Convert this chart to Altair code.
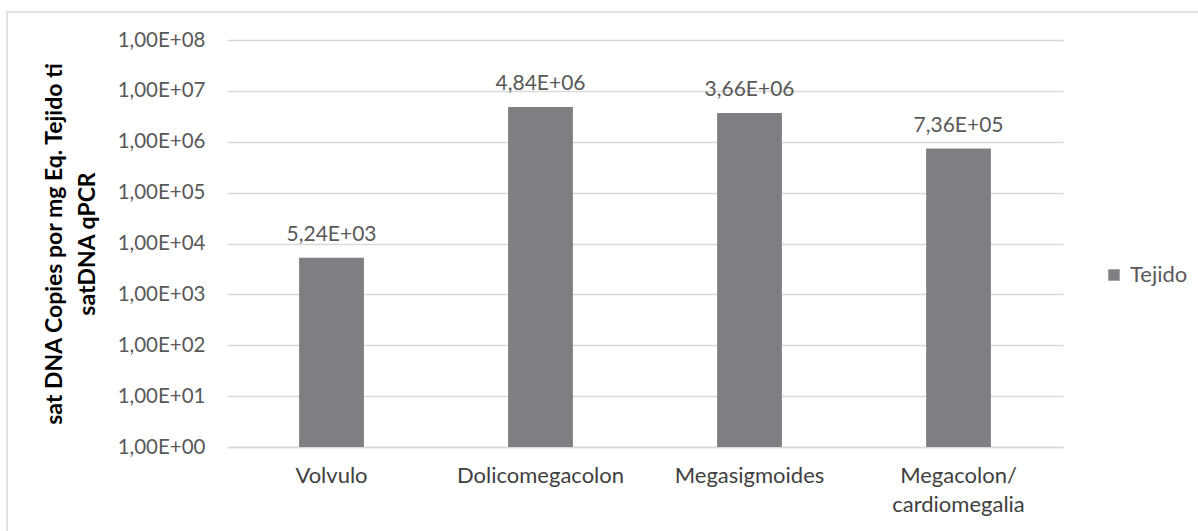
import altair as alt
import pandas as pd

categories = ["Volvulo", "Dolicomegacolon", "Megasigmoides", "Megacolon/ cardiomegalia"]
values = [5240, 4840000, 3660000, 736000]
value_labels = ["5,24E+03", "4,84E+06", "3,66E+06", "7,36E+05"]
series = ["Tejido"] * 4
y_ticks = [1, 10, 100, 1000, 10000, 100000, 1000000, 10000000, 100000000]

df = pd.DataFrame({"cat": categories, "val": values, "lab": value_labels, "serie": series})

FONT = "Lato"
BAR = "#7e7f83"

base = alt.Chart(df)

x_enc = alt.X(
    "cat:N",
    sort=categories,
    scale=alt.Scale(paddingInner=0.69, paddingOuter=0.345),
    axis=alt.Axis(
        title=None,
        labelAngle=0,
        labelFont=FONT,
        labelFontSize=22,
        labelColor="#404040",
        labelPadding=18,
        labelLineHeight=29,
        labelExpr="datum.label == 'Megacolon/ cardiomegalia' ? ['Megacolon/', 'cardiomegalia'] : datum.label",
        ticks=False,
        domainColor="#d9d9d9",
        domainWidth=1.5,
        grid=False,
    ),
)

y_enc = alt.Y(
    "val:Q",
    stack=None,
    scale=alt.Scale(type="log", domain=[1, 100000000]),
    axis=alt.Axis(
        values=y_ticks,
        title=["sat DNA Copies por mg Eq.  Tejido ti", "satDNA qPCR"],
        titleFont=FONT,
        titleFontSize=23,
        titleFontWeight="bold",
        titleColor="#000000",
        titlePadding=18,
        titleLineHeight=33,
        labelFont=FONT,
        labelFontSize=20.5,
        labelColor="#595959",
        labelPadding=22,
        labelExpr="'1,00E+0' + format(log(datum.value)/LN10, '.0f')",
        ticks=False,
        domain=False,
        gridColor="#d9d9d9",
        gridWidth=1.3,
    ),
)

bars = base.mark_bar(color=BAR).encode(
    x=x_enc,
    y=y_enc,
    color=alt.Color(
        "serie:N",
        scale=alt.Scale(range=[BAR]),
        legend=alt.Legend(
            title=None,
            orient="none",
            legendX=876,
            legendY=224,
            symbolType="square",
            symbolSize=130,
            symbolStrokeWidth=0,
            labelFont=FONT,
            labelFontSize=22,
            labelColor="#595959",
            labelOffset=5,
        ),
    ),
)

texts = base.mark_text(
    font=FONT, fontSize=21, color="#595959", baseline="alphabetic", dy=-17
).encode(
    x=alt.X("cat:N", sort=categories),
    y=alt.Y("val:Q", stack=None),
    text="lab:N",
)

border = alt.Chart(pd.DataFrame({"a": [0]})).mark_rect(
    fill="transparent", stroke="#d9d9d9", strokeWidth=1.5
).encode(
    x=alt.value(-220), x2=alt.value(975), y=alt.value(-28), y2=alt.value(500)
)

chart = (
    alt.layer(border, bars, texts)
    .properties(
        width=836,
        height=407,
        autosize=alt.AutoSizeParams(type="none"),
        padding={"left": 227, "top": 40, "right": 135, "bottom": 84},
        background="white",
    )
    .configure_view(stroke=None)
)

chart.save("out.html", embed_options={"renderer": "svg", "actions": False})
